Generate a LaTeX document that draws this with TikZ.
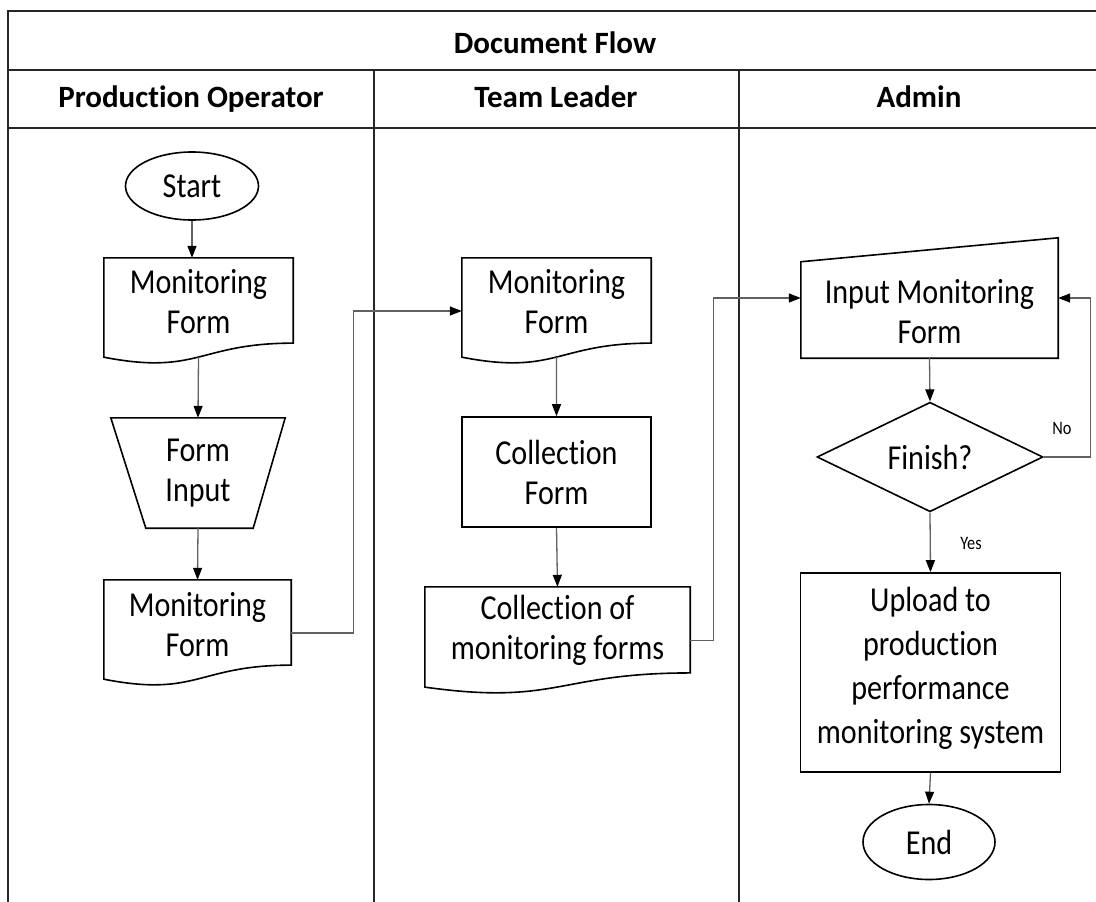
\documentclass[tikz,border=0pt]{standalone}
\usepackage{fontspec}
\setmainfont{Carlito}[Ligatures=NoCommon]
\newfontfamily\nodefont{Carlito}[FakeStretch=0.86, Ligatures=NoCommon]
\usetikzlibrary{shapes.geometric,arrows.meta,calc}
\begin{document}
\begin{tikzpicture}[x=1pt,y=-1pt,
  frame/.style={draw=black!85, line width=2.2pt},
  shapeline/.style={draw=black, line width=1.6pt},
  txt/.style={font=\nodefont\fontsize{35}{40}\selectfont, align=center, text=black},
  hdr/.style={font=\fontsize{31}{37}\selectfont\bfseries, text=black, anchor=base, inner sep=0pt},
  box/.style={rectangle, inner sep=0pt, txt},
  lbl/.style={txt, inner sep=0pt},
  small/.style={font=\nodefont\fontsize{19}{22}\selectfont, text=black, inner sep=0pt},
  conn/.style={draw=black!62, line width=1.3pt, -{Triangle[length=12pt,width=9pt,color=black]}},
  oval/.style={ellipse, shapeline, inner sep=0pt, txt}
]
\useasboundingbox (0,0) rectangle (1096,902);
\clip (0,0) rectangle (1096,902);
\fill[white] (0,0) rectangle (1096,902);

% swimlane frame
\draw[frame] (8,910) -- (8,11) -- (1110,11);
\draw[frame] (8,70) -- (1110,70);
\draw[frame] (8,128) -- (1110,128);
\draw[frame] (374,70) -- (374,910);
\draw[frame] (739,70) -- (739,910);

\node[hdr] (hflow) at (555,53) {Document Flow};
\node[hdr] (hop) at (191,107) {Production Operator};
\node[hdr] (htl) at (556,107) {Team Leader};
\node[hdr] (had) at (919,107) {Admin};

\newcommand\docout[1]{%
  \draw[shapeline] (#1.north west) -- (#1.north east)
    -- ($(#1.north east)!0.802!(#1.south east)$)
    .. controls ($(#1.north)!0.802!(#1.south)$) and ($(#1.north)!1.107!(#1.south)$)
    .. ($(#1.north west)!0.934!(#1.south west)$) -- cycle;}

% Production Operator lane
\node[oval, minimum width=133pt, minimum height=68pt] (start) at (192,186) {Start};

\node[box, minimum width=189pt, minimum height=106pt,
  label={[lbl, yshift=9pt]center:{Monitoring\\Form}}] (d1) at (198.5,311) {};
\docout{d1}

\node[box, minimum width=174pt, minimum height=110pt] (trap) at (198,473) {Form\\Input};
\draw[shapeline] (trap.north west) -- (trap.north east)
  -- ($(trap.south east)+(-32,0)$) -- ($(trap.south west)+(35,0)$) -- cycle;

\node[box, minimum width=187pt, minimum height=106pt,
  label={[lbl, yshift=8pt]center:{Monitoring\\Form}}] (d2) at (197.5,633) {};
\docout{d2}

% Team Leader lane
\node[box, minimum width=189pt, minimum height=106pt,
  label={[lbl, yshift=9pt]center:{Monitoring\\Form}}] (t1) at (556.5,311) {};
\docout{t1}

\node[box, shapeline, minimum width=189pt, minimum height=110pt] (cf) at (556.5,472) {Collection\\Form};

\node[box, minimum width=265pt, minimum height=107pt,
  label={[lbl, yshift=10pt]center:{Collection of\\monitoring forms}}] (cd) at (557.5,640.5) {};
\docout{cd}

% Admin lane
\node[box, minimum width=257pt, minimum height=120pt,
  label={[lbl, yshift=-14pt]center:{Input Monitoring\\Form}}] (imf) at (929.5,298) {};
\draw[shapeline] (imf.south west) -- (imf.south east) -- (imf.north east)
  -- ($(imf.north west)!0.199!(imf.south west)$) -- cycle;

\node[diamond, shapeline, inner sep=0pt, minimum width=226pt, minimum height=107pt, txt] (fin) at (930,457) {Finish?};

\node[box, shapeline, minimum width=260pt, minimum height=199pt,
  label={[lbl, yshift=4pt, font=\nodefont\fontsize{35}{44}\selectfont]center:{Upload to\\production\\performance\\monitoring system}}] (up) at (930.5,672.5) {};

\node[oval, minimum width=132pt, minimum height=75pt] (end) at (929,842) {End};

\node[small] (lno) at (1062,428) {No};
\node[small] (lyes) at (971,543) {Yes};

% connectors
\draw[conn] (start.south) -- (start.south |- d1.north);
\draw[conn] ($(d1.north)!0.933!(d1.south)$) -- (trap.north);
\draw[conn] (trap.south) -- (d2.north);
\draw[conn] (d2.east) -- ++(62,0) |- (t1.west);
\draw[conn] ($(t1.north)!0.933!(t1.south)$) -- (cf.north);
\draw[conn] (cf.south) -- (cd.north);
\draw[conn] (cd.east) -- ++(23,0) |- (imf.west);
\draw[conn] (imf.south) -- (fin.north);
\draw[conn] (fin.east) -- ++(47,0) |- (imf.east);
\draw[conn] (fin.south) -- (up.north);
\draw[conn] (up.south) -- (end.north);
\end{tikzpicture}
\end{document}
